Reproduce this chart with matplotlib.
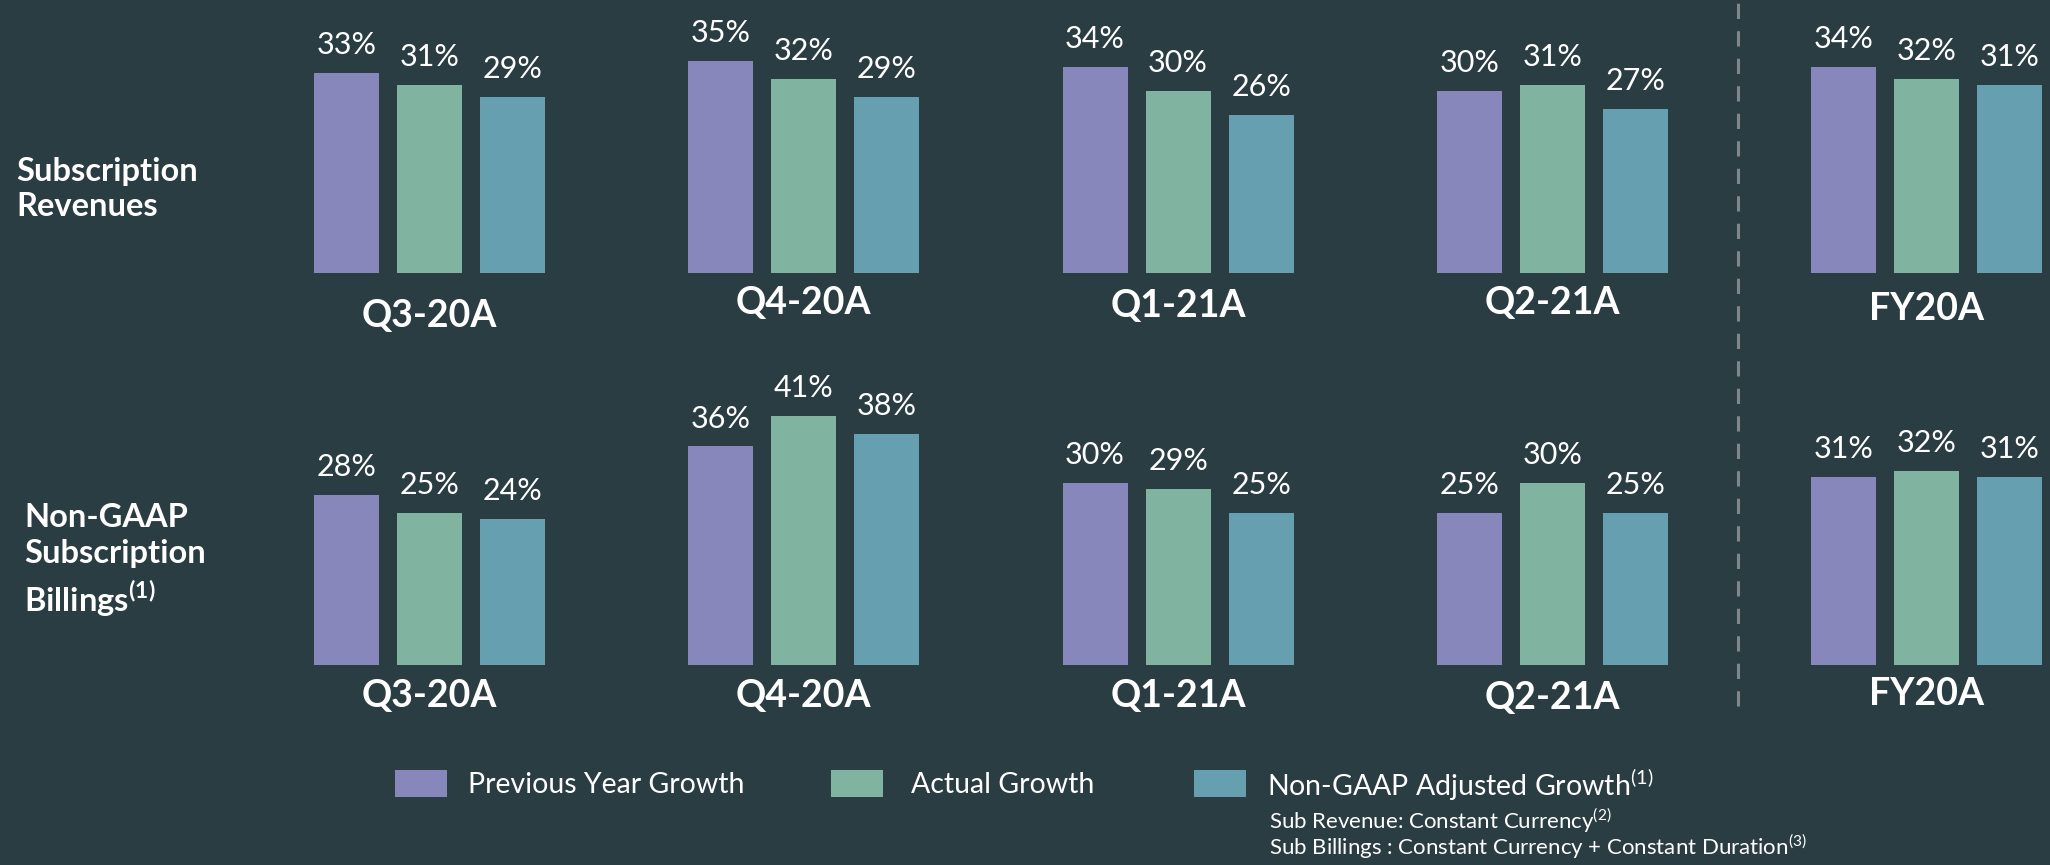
"""
Subscription revenue / billings growth, grouped bars per quarter.
"""
import matplotlib
matplotlib.use('Agg')
import matplotlib.pyplot as plt
from matplotlib.lines import Line2D
from matplotlib.patches import Rectangle
from matplotlib import transforms

# data
periods = ['Q3-20A', 'Q4-20A', 'Q1-21A', 'Q2-21A', 'FY20A']
series = ['Previous Year Growth', 'Actual Growth',
          'Non-GAAP Adjusted Growth$^{\\mathregular{(1)}}$']

rev_prev = [33, 35, 34, 30, 34]
rev_actual = [31, 32, 30, 31, 32]
rev_adjusted = [29, 29, 26, 27, 31]

bill_prev = [28, 36, 30, 25, 31]
bill_actual = [25, 41, 29, 30, 32]
bill_adjusted = [24, 38, 25, 25, 31]

row_titles = ['Subscription\nRevenues',
              'Non-GAAP\nSubscription\nBillings$^{\\mathregular{(1)}}$']
footnotes = ['Sub Revenue: Constant Currency$^{\\mathregular{(2)}}$',
             'Sub Billings : Constant Currency + Constant Duration$^{\\mathregular{(3)}}$']

# style
BG = '#2a3d42'
COLORS = ['#8787bb', '#80b4a0', '#66a0b0']
FONT = ['Lato', 'DejaVu Sans']

W, H = 2050, 865
PX_PER_PCT = 6.07
GROUP_PX = 374.3       # distance between group centres
FIRST_PX = 429.5       # centre of first group
BAR_STEP = 83 / GROUP_PX
BAR_W = 65 / GROUP_PX

plt.rcParams['font.family'] = FONT

fig = plt.figure(figsize=(W / 100, H / 100), dpi=100)
fig.patch.set_facecolor(BG)


def fy(px):
    """pixel row from top -> figure fraction"""
    return 1 - px / H


def add_row(baseline_px, top_px, values, label_y_px):
    height_px = baseline_px - top_px
    ax = fig.add_axes([0, fy(baseline_px), 1, height_px / H])
    ax.set_facecolor('none')
    ax.set_xlim(-FIRST_PX / GROUP_PX, (W - FIRST_PX) / GROUP_PX)
    ax.set_ylim(0, height_px / PX_PER_PCT)
    ax.axis('off')

    xs = list(range(len(periods)))
    for k, vals in enumerate(values):
        offs = [x + (k - 1) * BAR_STEP for x in xs]
        bars = ax.bar(offs, vals, width=BAR_W, color=COLORS[k], linewidth=0)
        for b, v in zip(bars, vals):
            ax.annotate(f'{v}%', (b.get_x() + b.get_width() / 2, v),
                        xytext=(0, 10), textcoords='offset points',
                        ha='center', va='bottom', color='white',
                        fontsize=22)

    trans = transforms.blended_transform_factory(ax.transData, fig.transFigure)
    for x, name, ly in zip(xs, periods, label_y_px):
        ax.text(x, fy(ly), name, transform=trans, ha='center', va='center',
                color='white', fontsize=27, fontweight='bold')
    return ax


add_row(273, 0, [rev_prev, rev_actual, rev_adjusted],
        [316, 303, 306, 303, 309])
add_row(665, 380, [bill_prev, bill_actual, bill_adjusted],
        [696, 696, 696, 698, 694])

# row titles
fig.text(16 / W, fy(189), row_titles[0], ha='left', va='center',
         color='white', fontsize=23.5, fontweight='bold', linespacing=1.25)
fig.text(24 / W, fy(561), row_titles[1], ha='left', va='center',
         color='white', fontsize=23.5, fontweight='bold', linespacing=1.32)

# divider before the full-year group
fig.add_artist(Line2D([1737.6 / W] * 2, [fy(706), 1.0], transform=fig.transFigure,
                      color='#80878a', linewidth=2.2, dashes=(5, 4)))

# legend, laid out by hand to keep the slide spacing
box_x = [395, 831, 1194]
text_x = [468, 911, 1267]
for c, bx, tx, name in zip(COLORS, box_x, text_x, series):
    fig.add_artist(Rectangle((bx / W, fy(797)), 52 / W, 27 / H,
                             transform=fig.transFigure, facecolor=c,
                             edgecolor='none'))
    fig.text(tx / W, fy(785), name, ha='left', va='center', color='white',
             fontsize=20.5)

for text, py in zip(footnotes, [821, 847]):
    fig.text(1269 / W, fy(py), text, ha='left', va='center',
             color='white', fontsize=16)

fig.savefig('out.png', dpi=100, facecolor=BG)
